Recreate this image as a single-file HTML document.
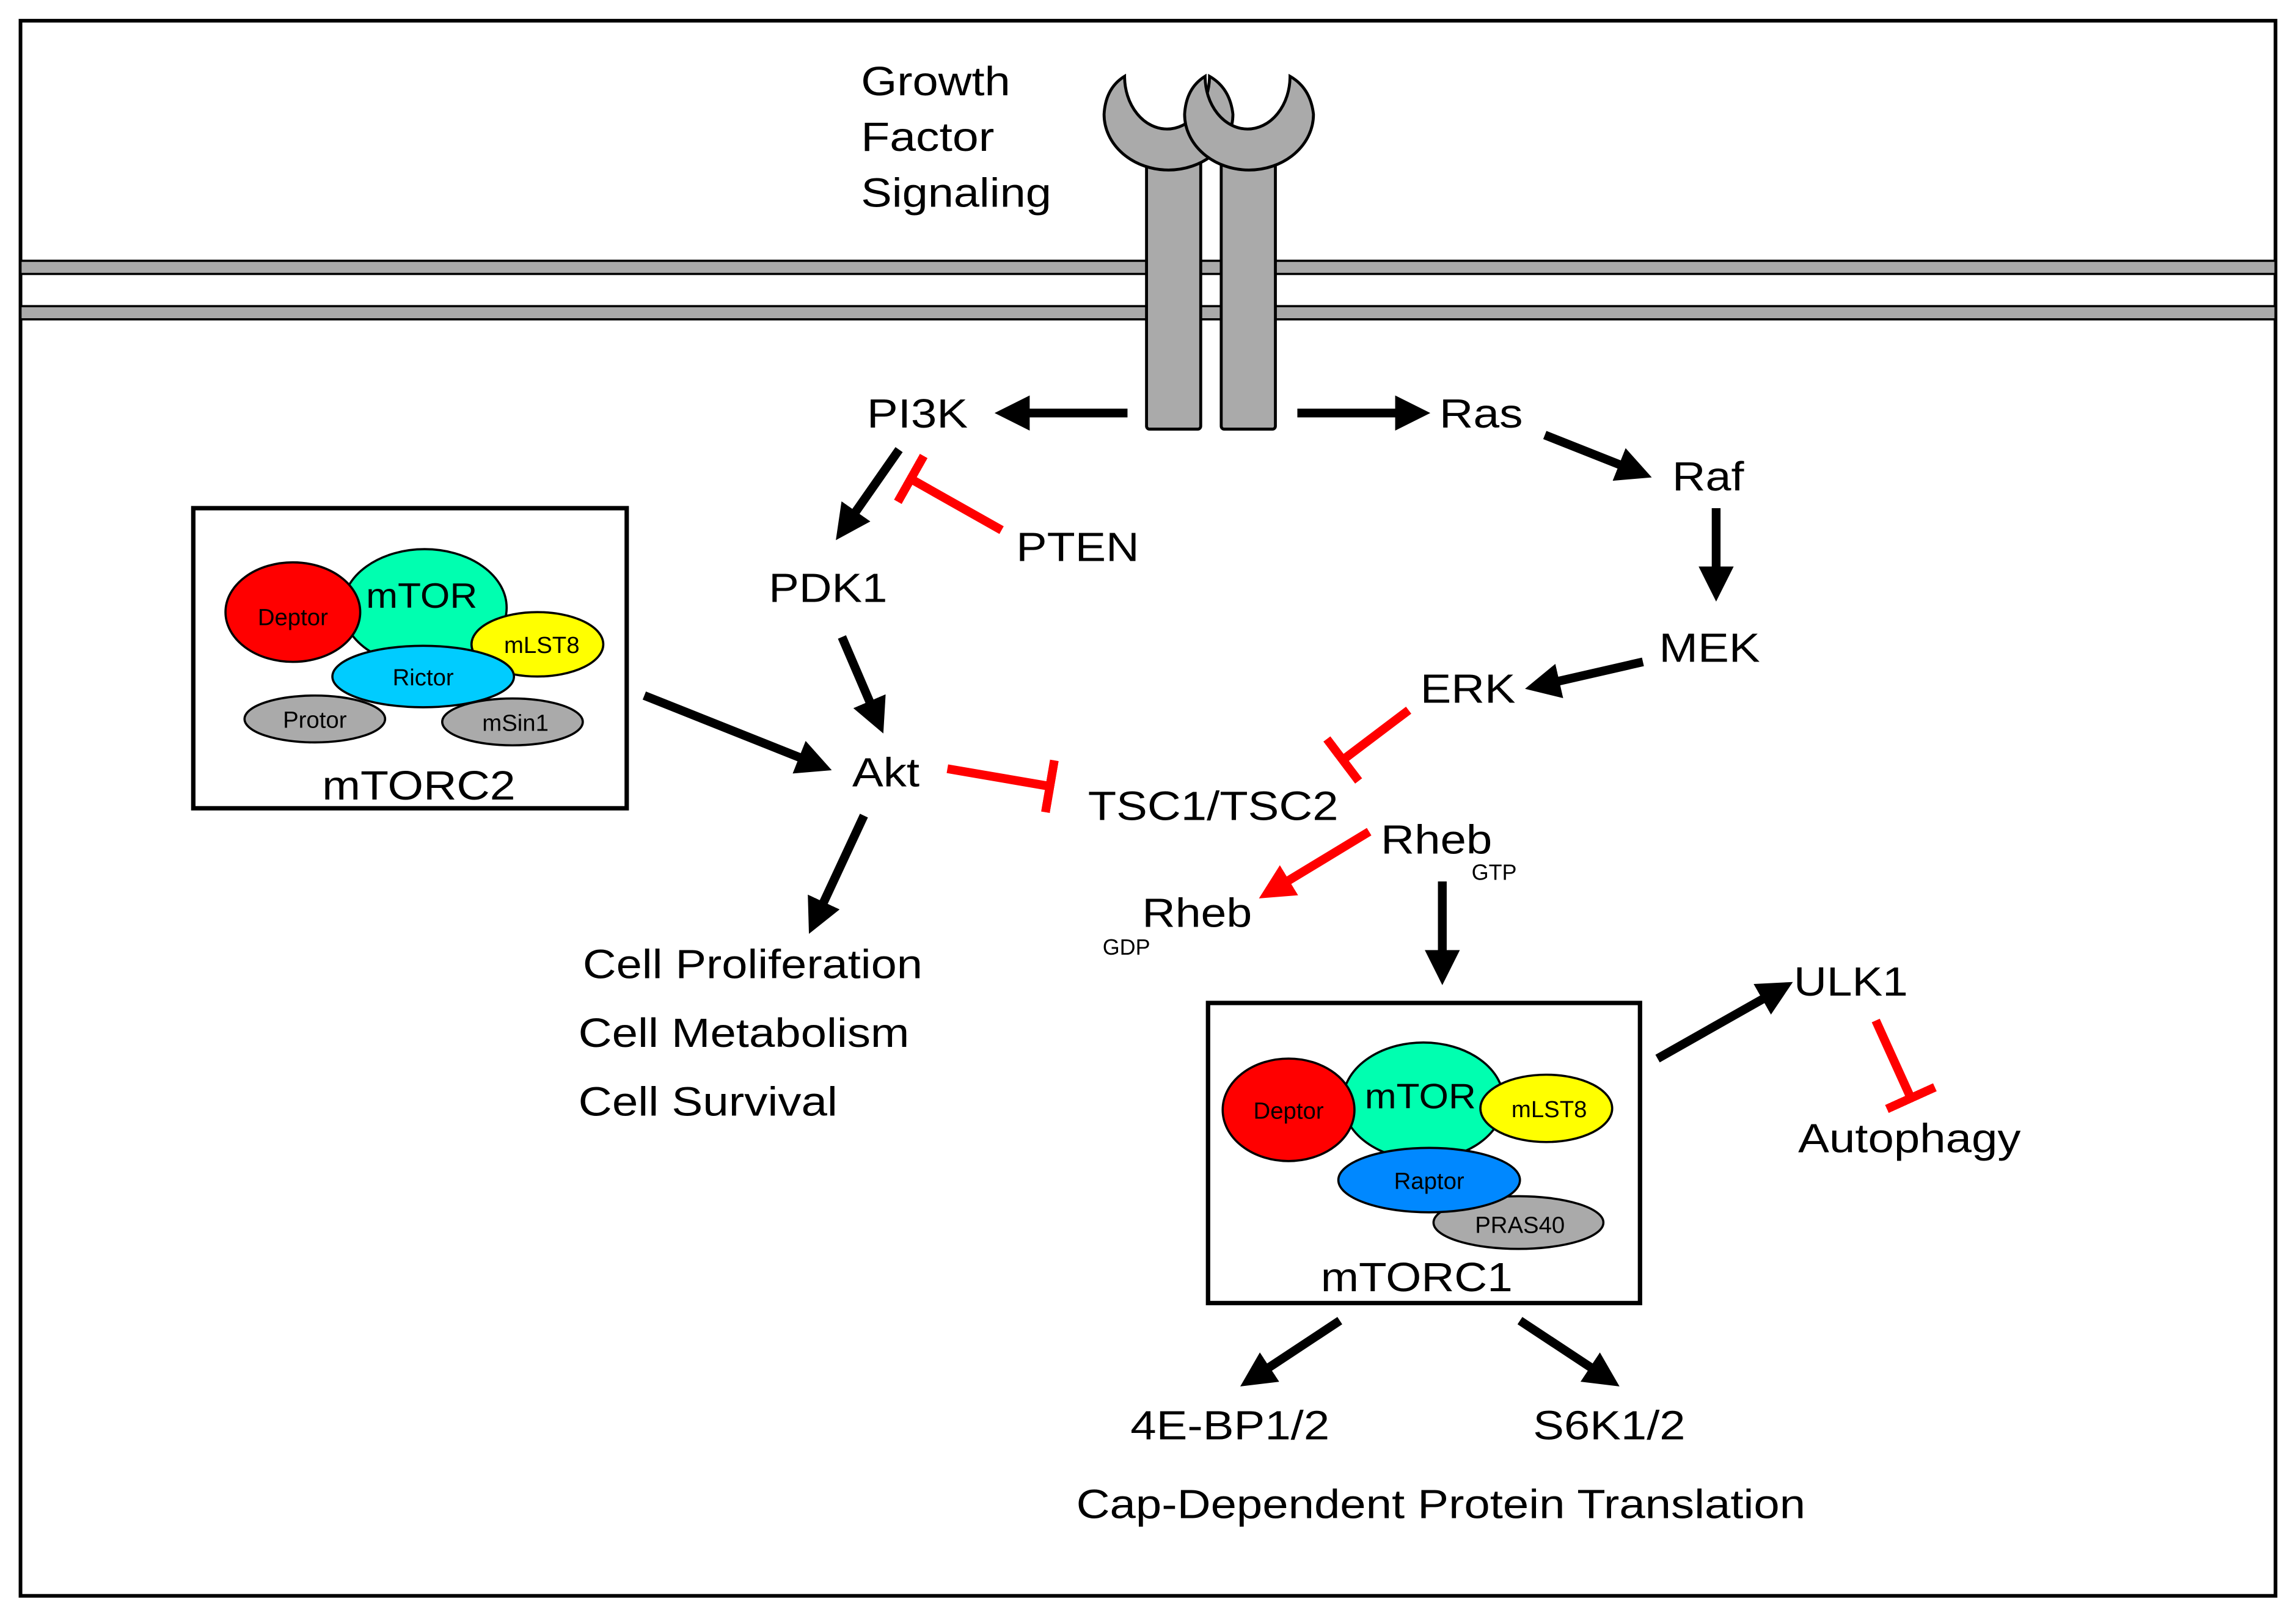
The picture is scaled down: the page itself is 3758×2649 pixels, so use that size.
<!DOCTYPE html>
<html><head><meta charset="utf-8"><style>html,body{margin:0;padding:0;background:#fff}svg{display:block}</style></head>
<body>
<svg width="3758" height="2649" viewBox="0 0 1568 1105" xmlns="http://www.w3.org/2000/svg" font-family="Liberation Sans, Arial, sans-serif">
<defs>
<marker id="ab" markerWidth="4" markerHeight="4" refX="2.2" refY="2" orient="auto" markerUnits="strokeWidth"><path d="M0,0 L4,2 L0,4 Z" fill="#000"/></marker>
<marker id="ar" markerWidth="4" markerHeight="4" refX="2.2" refY="2" orient="auto" markerUnits="strokeWidth"><path d="M0,0 L4,2 L0,4 Z" fill="#f00"/></marker>
<marker id="bar" markerWidth="1" markerHeight="6" refX="0.5" refY="3" orient="auto" markerUnits="strokeWidth"><rect x="0" y="0" width="1" height="6" fill="#f00"/></marker>
</defs>
<rect x="0" y="0" width="1568" height="1105" fill="#fff"/>
<rect x="14" y="14" width="1540" height="1076" fill="none" stroke="#000" stroke-width="2.5"/>
<rect x="14" y="178" width="1540" height="9" fill="#aaa" stroke="#000" stroke-width="1.5"/>
<rect x="14" y="209" width="1540" height="9" fill="#aaa" stroke="#000" stroke-width="1.5"/>
<rect x="783" y="100" width="37" height="193" rx="2" fill="#aaa" stroke="#000" stroke-width="2"/>
<rect x="834" y="100" width="37" height="193" rx="2" fill="#aaa" stroke="#000" stroke-width="2"/>
<path d="M768,52 Q755,60 754,78 A44,38 0 0 0 842,78 Q840,60 826,52 A29,36 0 0 1 768,52 Z" fill="#aaa" stroke="#000" stroke-width="2"/>
<path d="M823,52 Q810,60 809,78 A44,38 0 0 0 897,78 Q895,60 881,52 A29,36 0 0 1 823,52 Z" fill="#aaa" stroke="#000" stroke-width="2"/>
<g font-size="28" fill="#000" lengthAdjust="spacingAndGlyphs">
<text x="588" y="65" textLength="102" lengthAdjust="spacingAndGlyphs">Growth</text>
<text x="588" y="103" textLength="91" lengthAdjust="spacingAndGlyphs">Factor</text>
<text x="588" y="141" textLength="130" lengthAdjust="spacingAndGlyphs">Signaling</text>
<text x="592" y="292" textLength="69" lengthAdjust="spacingAndGlyphs">PI3K</text>
<text x="983" y="292" textLength="57" lengthAdjust="spacingAndGlyphs">Ras</text>
<text x="1142" y="335" textLength="49" lengthAdjust="spacingAndGlyphs">Raf</text>
<text x="694" y="383" textLength="84" lengthAdjust="spacingAndGlyphs">PTEN</text>
<text x="525" y="411" textLength="81" lengthAdjust="spacingAndGlyphs">PDK1</text>
<text x="1133" y="452" textLength="69" lengthAdjust="spacingAndGlyphs">MEK</text>
<text x="970" y="480" textLength="65" lengthAdjust="spacingAndGlyphs">ERK</text>
<text x="582" y="537" textLength="46" lengthAdjust="spacingAndGlyphs">Akt</text>
<text x="743" y="560" textLength="171" lengthAdjust="spacingAndGlyphs">TSC1/TSC2</text>
<text x="943" y="583" textLength="76" lengthAdjust="spacingAndGlyphs">Rheb</text>
<text x="780" y="633" textLength="75" lengthAdjust="spacingAndGlyphs">Rheb</text>
<text x="398" y="668" textLength="232" lengthAdjust="spacingAndGlyphs">Cell Proliferation</text>
<text x="395" y="715" textLength="226" lengthAdjust="spacingAndGlyphs">Cell Metabolism</text>
<text x="395" y="762" textLength="177" lengthAdjust="spacingAndGlyphs">Cell Survival</text>
<text x="1225" y="680" textLength="78" lengthAdjust="spacingAndGlyphs">ULK1</text>
<text x="1228" y="787" textLength="152" lengthAdjust="spacingAndGlyphs">Autophagy</text>
<text x="772" y="983" textLength="136" lengthAdjust="spacingAndGlyphs">4E-BP1/2</text>
<text x="1047" y="983" textLength="104" lengthAdjust="spacingAndGlyphs">S6K1/2</text>
<text x="735" y="1037" textLength="498" lengthAdjust="spacingAndGlyphs">Cap-Dependent Protein Translation</text>
<text x="220" y="546" textLength="132" lengthAdjust="spacingAndGlyphs">mTORC2</text>
<text x="902" y="882" textLength="131" lengthAdjust="spacingAndGlyphs">mTORC1</text>
</g>
<text x="1005" y="601" font-size="15">GTP</text>
<text x="753" y="652" font-size="15">GDP</text>
<g stroke="#000" stroke-width="6" fill="none" marker-end="url(#ab)">
<line x1="770" y1="282" x2="690" y2="282"/>
<line x1="886" y1="282" x2="966" y2="282"/>
<line x1="614" y1="307" x2="577" y2="360"/>
<line x1="1055" y1="297" x2="1118" y2="322"/>
<line x1="1172" y1="347" x2="1172" y2="400"/>
<line x1="1122" y1="452" x2="1052" y2="468"/>
<line x1="575" y1="435" x2="599" y2="491"/>
<line x1="440" y1="475" x2="558" y2="522"/>
<line x1="590" y1="557" x2="557" y2="628"/>
<line x1="985" y1="602" x2="985" y2="662"/>
<line x1="1132" y1="723" x2="1215" y2="676"/>
<line x1="915" y1="902" x2="856" y2="941"/>
<line x1="1038" y1="902" x2="1097" y2="941"/>
</g>
<line x1="935" y1="568" x2="869" y2="608" stroke="#f00" stroke-width="6" marker-end="url(#ar)"/>
<g stroke="#f00" stroke-width="6" fill="none" marker-end="url(#bar)">
<line x1="684" y1="362" x2="622" y2="327"/>
<line x1="647" y1="525" x2="717" y2="537"/>
<line x1="962" y1="485" x2="917" y2="519"/>
<line x1="1281" y1="697" x2="1305" y2="750"/>
</g>
<rect x="132" y="347" width="296" height="205" fill="none" stroke="#000" stroke-width="3"/>
<g stroke="#000" stroke-width="1.5">
<ellipse cx="290" cy="415" rx="56" ry="40" fill="#00ffb0"/>
<ellipse cx="200" cy="418" rx="46" ry="34" fill="#f00"/>
<ellipse cx="367" cy="440" rx="45" ry="22" fill="#ff0"/>
<ellipse cx="215" cy="491" rx="48" ry="16" fill="#aaa"/>
<ellipse cx="350" cy="493" rx="48" ry="16" fill="#aaa"/>
<ellipse cx="289" cy="462" rx="62" ry="21" fill="#00ccff"/>
</g>
<g font-size="16" text-anchor="middle">
<text x="288" y="415" font-size="24" textLength="76" lengthAdjust="spacingAndGlyphs">mTOR</text>
<text x="200" y="427">Deptor</text><text x="370" y="446">mLST8</text>
<text x="289" y="468">Rictor</text><text x="215" y="497">Protor</text><text x="352" y="499">mSin1</text>
</g>
<rect x="825" y="685" width="295" height="205" fill="none" stroke="#000" stroke-width="3"/>
<g stroke="#000" stroke-width="1.5">
<ellipse cx="972" cy="752" rx="55" ry="40" fill="#00ffb0"/>
<ellipse cx="880" cy="758" rx="45" ry="35" fill="#f00"/>
<ellipse cx="1056" cy="757" rx="45" ry="23" fill="#ff0"/>
<ellipse cx="1037" cy="835" rx="58" ry="18" fill="#aaa"/>
<ellipse cx="976" cy="806" rx="62" ry="22" fill="#0088ff"/>
</g>
<g font-size="16" text-anchor="middle">
<text x="970" y="757" font-size="24" textLength="76" lengthAdjust="spacingAndGlyphs">mTOR</text>
<text x="880" y="764">Deptor</text><text x="1058" y="763">mLST8</text>
<text x="976" y="812">Raptor</text><text x="1038" y="842">PRAS40</text>
</g>
</svg>
</body></html>
